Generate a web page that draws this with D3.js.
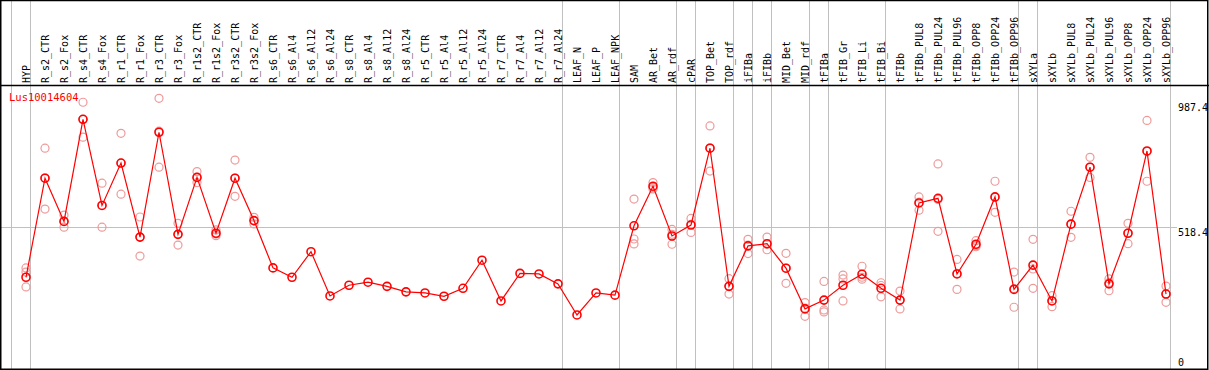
<!DOCTYPE html>
<html>
<head>
<meta charset="utf-8">
<script src="https://cdn.jsdelivr.net/npm/d3@7"></script>
<style>
  body { margin: 0; background: #fff; }
  svg { display: block; }
  text { font-family: "DejaVu Sans Mono", monospace; font-size: 10px; }
</style>
</head>
<body>
<div id="chart"></div>
<script>
const width = 1209,
  height = 370,
  headerBottom = 85,
  plotLeft = 11,
  colWidth = 19,
  markOffset = 15;

const gene = "Lus10014604";

const samples = [
  "HYP", "R_s2_CTR", "R_s2_Fox", "R_s4_CTR", "R_s4_Fox", "R_r1_CTR", "R_r1_Fox",
  "R_r3_CTR", "R_r3_Fox", "R_r1s2_CTR", "R_r1s2_Fox", "R_r3s2_CTR", "R_r3s2_Fox",
  "R_s6_CTR", "R_s6_Al4", "R_s6_Al12", "R_s6_Al24", "R_s8_CTR", "R_s8_Al4",
  "R_s8_Al12", "R_s8_Al24", "R_r5_CTR", "R_r5_Al4", "R_r5_Al12", "R_r5_Al24",
  "R_r7_CTR", "R_r7_Al4", "R_r7_Al12", "R_r7_Al24", "LEAF_N", "LEAF_P", "LEAF_NPK",
  "SAM", "AR_Bet", "AR_rdf", "cPAR", "TOP_Bet", "TOP_rdf", "iFIBa", "iFIBb",
  "MID_Bet", "MID_rdf", "tFIBa", "tFIB_Gr", "tFIB_Li", "tFIB_Bi", "tFIBb",
  "tFIBb_PUL8", "tFIBb_PUL24", "tFIBb_PUL96", "tFIBb_OPP8", "tFIBb_OPP24", "tFIBb_OPP96",
  "sXYLa", "sXYLb", "sXYLb_PUL8", "sXYLb_PUL24", "sXYLb_PUL96", "sXYLb_OPP8",
  "sXYLb_OPP24", "sXYLb_OPP96"
];

// mean expression per sample
const means = [
  337, 697, 540, 911, 598, 752, 483, 864, 493, 700, 497, 697, 543,
  371, 337, 430, 269, 308, 319, 304, 284, 280, 268, 297, 399,
  251, 351, 349, 313, 200, 280, 272,
  524, 668, 487, 527, 806, 304, 451, 459, 370, 222,
  254, 308, 348, 297, 254, 607, 624, 349, 457, 629, 293,
  381, 251, 530, 737, 313, 497, 796, 276
];

// replicate values per sample (empty where none shown)
const replicates = [
  [371, 356, 302], [806, 585, 698], [563, 519, 540], [973, 846, 911],
  [679, 519, 598], [860, 639, 752], [556, 414, 483], [987.4, 737, 868],
  [533, 454, 493], [721, 681, 700], [509, 488, 494], [763, 631, 697],
  [555, 531, 542],
  [], [], [], [], [], [], [], [], [], [], [], [], [], [], [], [], [], [], [],
  [621, 476, 458], [681, 658, 664], [511, 457, 493], [551, 500, 529],
  [887, 723, 807], [332, 276, 305], [475, 423, 454], [483, 437, 456],
  [424, 315, 370], [245, 195, 225], [322, 218, 211], [345, 331, 251],
  [377, 330, 337], [317, 266, 307], [287, 222, 254], [629, 581, 610],
  [749, 504, 620], [402, 293, 351], [470, 448, 452], [686, 573, 627],
  [356, 228, 296], [475, 367, 297], [270, 230, 252], [577, 482, 530],
  [773, 700, 737], [331, 288, 318], [533, 459, 498], [907, 686, 794],
  [305, 246, 277]
];

const groupStarts = [
  "HYP", "R_s2_CTR", "LEAF_N", "SAM", "cPAR", "TOP_Bet", "iFIBa", "iFIBb",
  "MID_Bet", "tFIBa", "tFIB_Gr", "tFIBb", "sXYLa", "sXYLb"
];

const yTicks = [987.4, 518.4, 0];
const gridValue = 518.4;

const xScale = d3
  .scaleBand()
  .domain(samples)
  .range([plotLeft, plotLeft + colWidth * samples.length])
  .padding(0);

const px = (s) => xScale(s) + markOffset;

const yScale = d3.scaleLinear().domain([0, 987.4]).range([370, 98.3]);

const svg = d3
  .select("#chart")
  .append("svg")
  .attr("width", width)
  .attr("height", height);

const plotRight = xScale.range()[1];

// group separators
svg
  .append("g")
  .selectAll("line")
  .data(groupStarts.map((s) => xScale(s)).concat([plotRight]))
  .enter()
  .append("line")
  .attr("x1", (d) => d + 0.5)
  .attr("x2", (d) => d + 0.5)
  .attr("y1", 0)
  .attr("y2", height)
  .attr("stroke", "#c0c0c0")
  .attr("stroke-width", 1);

// horizontal grid line
svg
  .append("line")
  .attr("x1", 0)
  .attr("x2", 1177)
  .attr("y1", Math.round(yScale(gridValue)) + 0.5)
  .attr("y2", Math.round(yScale(gridValue)) + 0.5)
  .attr("stroke", "#c0c0c0");

// header separator and frame
svg
  .append("line")
  .attr("x1", 0)
  .attr("x2", width)
  .attr("y1", headerBottom + 0.5)
  .attr("y2", headerBottom + 0.5)
  .attr("stroke", "#000")
  .attr("stroke-width", 1.5);

svg
  .append("rect")
  .attr("x", 0.75)
  .attr("y", 0.5)
  .attr("width", width - 2)
  .attr("height", height - 1.25)
  .attr("fill", "none")
  .attr("stroke", "#000")
  .attr("stroke-width", 1.5);

// sample labels
svg
  .append("g")
  .selectAll("text")
  .data(samples)
  .enter()
  .append("text")
  .attr("transform", (d) => `translate(${px(d) + 3.5},${headerBottom - 2}) rotate(-90)`)
  .attr("fill", "#000")
  .text((d) => d);

// y labels on the right
svg
  .append("g")
  .selectAll("text")
  .data(yTicks)
  .enter()
  .append("text")
  .attr("x", 1178)
  .attr("y", (d) => Math.min(Math.max(yScale(d) + 8.3, 110.7), 366))
  .attr("fill", "#000")
  .text((d) => d);

// replicates
const repData = samples.flatMap((s, i) => replicates[i].map((v) => ({ s, v })));

svg
  .append("g")
  .selectAll("circle")
  .data(repData)
  .enter()
  .append("circle")
  .attr("cx", (d) => px(d.s))
  .attr("cy", (d) => yScale(d.v))
  .attr("r", 4)
  .attr("fill", "none")
  .attr("stroke", "#ee9a9a")
  .attr("stroke-width", 1.2);

const meanData = samples.map((s, i) => ({ s, v: means[i] }));

svg
  .append("path")
  .datum(meanData)
  .attr("fill", "none")
  .attr("stroke", "#ff0000")
  .attr("stroke-width", 1.2)
  .attr(
    "d",
    d3
      .line()
      .x((d) => px(d.s))
      .y((d) => yScale(d.v))
  );

svg
  .append("g")
  .selectAll("circle")
  .data(meanData)
  .enter()
  .append("circle")
  .attr("cx", (d) => px(d.s))
  .attr("cy", (d) => yScale(d.v))
  .attr("r", 4)
  .attr("fill", "none")
  .attr("stroke", "#ff0000")
  .attr("stroke-width", 1.6);

svg
  .append("text")
  .attr("x", 9)
  .attr("y", 101)
  .attr("fill", "#ff0000")
  .style("font-size", "10.5px")
  .text(gene);
</script>
</body>
</html>
